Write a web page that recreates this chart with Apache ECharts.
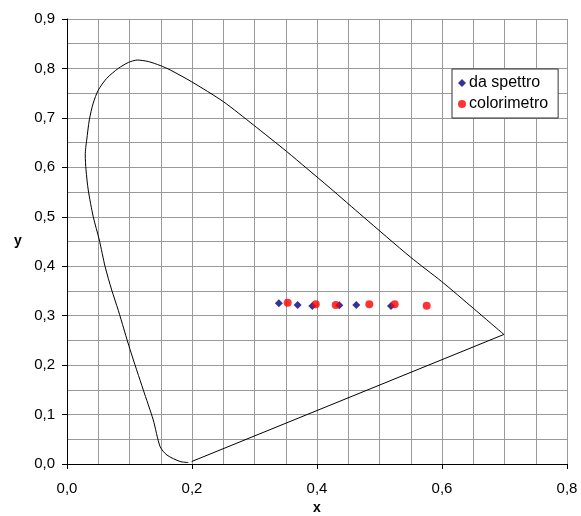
<!DOCTYPE html>
<html>
<head>
<meta charset="utf-8">
<script src="https://cdn.jsdelivr.net/npm/echarts@6/dist/echarts.min.js"></script>
<style>
  html, body { margin: 0; padding: 0; background: #fff; }
  #chart { width: 581px; height: 516px; }
</style>
</head>
<body>
<div id="chart"></div>
<script>
// Spectral locus (x, y chromaticity), from the blue end up to the red end
const locusX = [0.194, 0.181, 0.160, 0.149, 0.138, 0.122, 0.101, 0.082, 0.0715, 0.061, 0.0517, 0.042, 0.034, 0.0304, 0.0292, 0.0300, 0.0315, 0.0357, 0.042, 0.050, 0.0635, 0.082, 0.098, 0.1125, 0.130, 0.149, 0.165, 0.1995, 0.250, 0.298, 0.3515, 0.3835, 0.421, 0.474, 0.549, 0.5995, 0.650, 0.699];
const locusY = [0.003, 0.005, 0.018, 0.035, 0.089, 0.150, 0.231, 0.311, 0.352, 0.399, 0.453, 0.500, 0.554, 0.595, 0.625, 0.640, 0.655, 0.696, 0.730, 0.756, 0.780, 0.800, 0.812, 0.817, 0.814, 0.806, 0.797, 0.773, 0.733, 0.686, 0.632, 0.598, 0.558, 0.500, 0.419, 0.369, 0.315, 0.262];

// Line of purples: red end back to the blue end
const purpleX = [0.699, 0.1995];
const purpleY = [0.262, 0.005];

// Measured chromaticities
const spettroX = [0.339, 0.369, 0.3925, 0.4357, 0.4629, 0.5184];
const spettroY = [0.325, 0.3216, 0.3196, 0.321, 0.3216, 0.3196];
const colorimetroX = [0.3531, 0.398, 0.430, 0.4837, 0.5243, 0.5755];
const colorimetroY = [0.3263, 0.323, 0.3216, 0.323, 0.323, 0.320];

const seriesNames = ['da spettro', 'colorimetro'];

const zip = (xs, ys) => xs.map((v, i) => [v, ys[i]]);
const fmt = v => v.toFixed(1).replace('.', ',');
const FONT = 'Liberation Sans, Arial, sans-serif';
const LABEL_SIZE = 15;
const gridLine = { lineStyle: { color: '#999999', width: 1 } };
const titleStyle = { fontFamily: FONT, fontSize: 14, fontWeight: 'bold', fill: '#000', align: 'center', verticalAlign: 'middle' };

const chart = echarts.init(document.getElementById('chart'), null, { renderer: 'canvas' });
chart.setOption({
  animation: false,
  backgroundColor: '#ffffff',
  grid: { left: 67, right: 14, top: 19, bottom: 52, containLabel: false, outerBoundsMode: 'none' },
  xAxis: {
    type: 'value', min: 0, max: 0.8, interval: 0.2,
    axisLine: { show: true, onZero: false, lineStyle: { color: '#000', width: 1 } },
    axisTick: { show: true, length: 5, lineStyle: { color: '#000' } },
    axisLabel: { formatter: fmt, margin: 17, fontFamily: FONT, fontSize: LABEL_SIZE, color: '#000' },
    splitLine: Object.assign({ show: true }, gridLine),
    minorTick: { show: false, splitNumber: 4 },
    minorSplitLine: Object.assign({ show: true }, gridLine)
  },
  yAxis: {
    type: 'value', min: 0, max: 0.9, interval: 0.1,
    axisLine: { show: true, onZero: false, lineStyle: { color: '#000', width: 1 } },
    axisTick: { show: true, length: 5, lineStyle: { color: '#000' } },
    axisLabel: { formatter: fmt, margin: 12, fontFamily: FONT, fontSize: LABEL_SIZE, color: '#000' },
    splitLine: Object.assign({ show: true }, gridLine),
    minorTick: { show: false, splitNumber: 2 },
    minorSplitLine: Object.assign({ show: true }, gridLine)
  },
  graphic: [
    { type: 'text', x: 317, y: 508, style: Object.assign({ text: 'x' }, titleStyle) },
    { type: 'text', x: 18, y: 241, style: Object.assign({ text: 'y' }, titleStyle) }
  ],
  legend: {
    data: seriesNames,
    orient: 'vertical',
    left: 452, top: 69,
    padding: [6, 10, 6, 6],
    itemGap: 5,
    itemWidth: 8, itemHeight: 8,
    backgroundColor: '#fff',
    borderColor: '#333', borderWidth: 1, borderRadius: 0,
    textStyle: { fontFamily: FONT, fontSize: 16, color: '#000', padding: [0, 0, 0, -2] }
  },
  series: [
    {
      type: 'line', data: zip(locusX, locusY), smooth: 0.25,
      showSymbol: false, symbol: 'none', silent: true,
      lineStyle: { color: '#000', width: 1 }, z: 3
    },
    {
      type: 'line', data: zip(purpleX, purpleY),
      showSymbol: false, symbol: 'none', silent: true,
      lineStyle: { color: '#000', width: 1 }, z: 3
    },
    {
      name: seriesNames[0], type: 'scatter', data: zip(spettroX, spettroY),
      symbol: 'diamond', symbolSize: 8,
      itemStyle: { color: '#000080' }, z: 5
    },
    {
      name: seriesNames[1], type: 'scatter', data: zip(colorimetroX, colorimetroY),
      symbol: 'circle', symbolSize: 8,
      itemStyle: { color: '#ff0000' }, z: 6
    }
  ]
});
</script>
</body>
</html>
